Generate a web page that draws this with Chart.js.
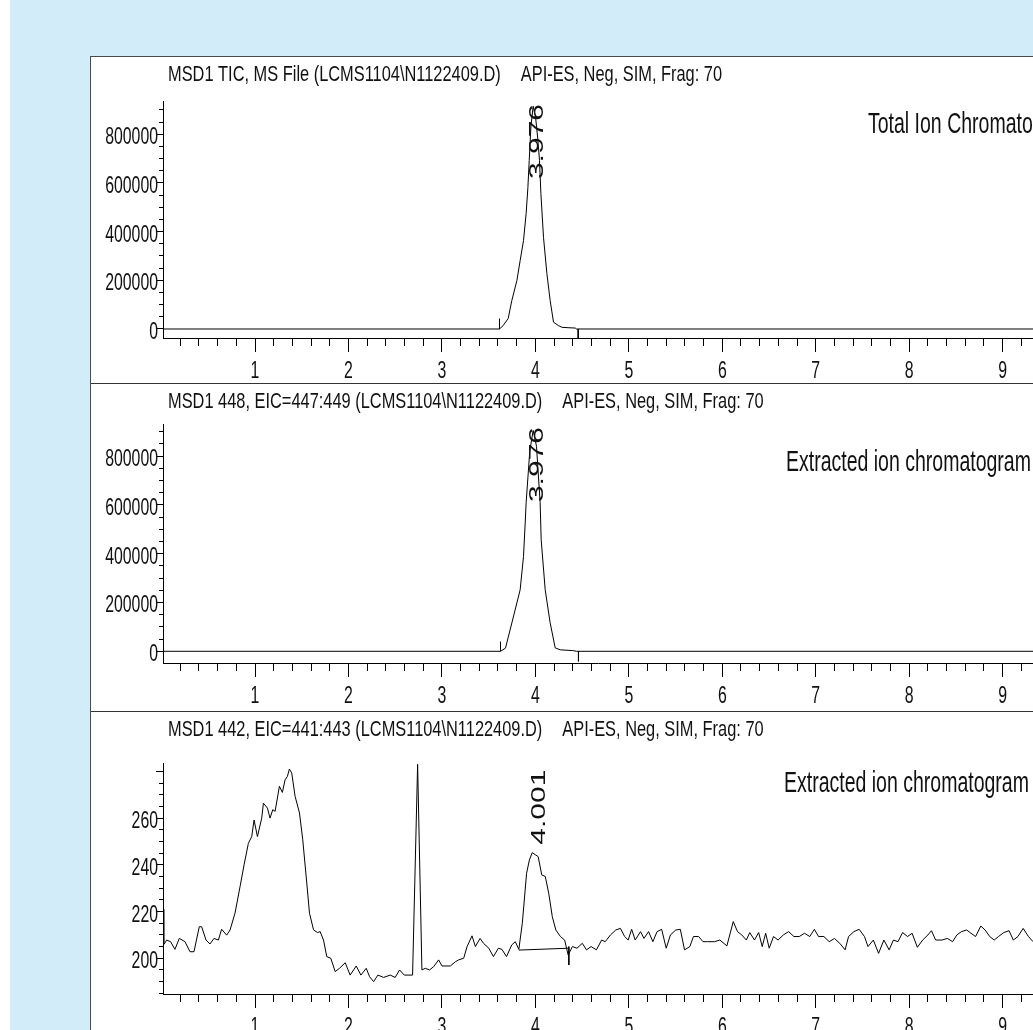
<!DOCTYPE html>
<html>
<head>
<meta charset="utf-8">
<script src="https://cdn.jsdelivr.net/npm/chart.js@4"></script>
<style>
  html, body { margin: 0; padding: 0; background: #fff; overflow: hidden; }
  #sky { position: absolute; left: 10px; top: 0; width: 1023px; height: 1030px; background: #d3ecf9; }
  #sheet { position: absolute; left: 90px; top: 56px; width: 1000px; height: 1000px; background: #fff;
           border-left: 1px solid #4a4a4a; border-top: 1px solid #4a4a4a; }
  .sep { position: absolute; left: 91px; width: 942px; height: 1px; background: #333; }
  canvas { position: absolute; left: 91px; }
</style>
</head>
<body>
<div id="sky"></div>
<div id="sheet"></div>
<canvas id="tic" width="942" height="326" style="top:57px"></canvas>
<div class="sep" style="top:383px"></div>
<canvas id="eic448" width="942" height="327" style="top:384px"></canvas>
<div class="sep" style="top:711px"></div>
<canvas id="eic442" width="942" height="318" style="top:712px"></canvas>
<script>
// retention time (min) and abundance
const ticTime  = [0.02, 3.616, 3.655, 3.709, 3.748, 3.802, 3.837, 3.873, 3.901, 3.920, 3.934, 3.952, 3.976, 4.002, 4.026, 4.044, 4.059, 4.087, 4.123, 4.158, 4.194, 4.247, 4.284, 4.360, 4.426, 4.440, 9.33];
const ticAbund = [0, 0, 14000, 43000, 117000, 199000, 281000, 363000, 474000, 581000, 692000, 830000, 915000, 870000, 780000, 692000, 556000, 376000, 228000, 117000, 28000, 14000, 7000, 5000, 4000, 0, 0];

const eic448Time  = [0.02, 3.627, 3.680, 3.748, 3.837, 3.873, 3.891, 3.901, 3.940, 3.976, 4.012, 4.051, 4.062, 4.105, 4.158, 4.212, 4.266, 4.400, 4.440, 9.33];
const eic448Abund = [0, 0, 13000, 116000, 252000, 389000, 526000, 609000, 820000, 905000, 840000, 609000, 457000, 252000, 117000, 14000, 6000, 3000, 0, 0];

const eic442Time = [0.026, 0.027, 0.055, 0.097, 0.143, 0.190, 0.251, 0.304, 0.347, 0.404, 0.429, 0.476, 0.518, 0.561, 0.608, 0.643, 0.697, 0.733, 0.786, 0.840,
  0.883, 0.929, 0.965, 0.990, 1.026, 1.072, 1.090, 1.133, 1.161, 1.190, 1.215, 1.261, 1.293, 1.322, 1.347, 1.368, 1.393, 1.429, 1.476, 1.511,
  1.554, 1.583, 1.626, 1.668, 1.697, 1.733, 1.768, 1.811, 1.858, 1.904, 1.965, 2.018, 2.083, 2.133, 2.190, 2.226, 2.269, 2.315, 2.376, 2.447,
  2.500, 2.547, 2.597, 2.686, 2.740, 2.786, 2.822, 2.868, 2.911, 2.965, 3.001, 3.090, 3.144, 3.179, 3.233, 3.269, 3.322, 3.358,
  3.408, 3.445, 3.502, 3.551, 3.604, 3.642, 3.691, 3.747, 3.785, 3.823, 3.860, 3.906, 3.936, 3.966, 4.004, 4.030, 4.068, 4.106, 4.143, 4.181,
  4.219, 4.268, 4.313, 4.351, 4.396, 4.445, 4.502, 4.547, 4.596, 4.653, 4.709, 4.747, 4.804, 4.860, 4.910, 4.955, 4.993, 5.030, 5.068, 5.125,
  5.162, 5.211, 5.257, 5.302, 5.351, 5.400, 5.445, 5.502, 5.551, 5.596, 5.653, 5.691, 5.747, 5.793, 5.842, 5.917, 5.974, 6.049, 6.117, 6.163,
  6.208, 6.257, 6.294, 6.344, 6.389, 6.427, 6.464, 6.502, 6.548, 6.597, 6.653, 6.710, 6.766, 6.823, 6.880, 6.936, 6.985, 7.030, 7.087, 7.144,
  7.200, 7.257, 7.314, 7.351, 7.408, 7.464, 7.521, 7.559, 7.616, 7.672, 7.729, 7.785, 7.831, 7.880, 7.929, 7.982, 8.031, 8.087, 8.144, 8.200,
  8.238, 8.283, 8.351, 8.408, 8.464, 8.510, 8.559, 8.615, 8.661, 8.710, 8.766, 8.812, 8.861, 8.910, 8.955, 9.012, 9.068, 9.114, 9.163, 9.219,
  9.276, 9.325];
const eic442Abund = [221.0, 206.0, 207.8, 207.1, 203.8, 208.5, 207.1, 202.8, 202.8, 213.5, 213.5, 207.8, 206.1, 208.5, 207.8, 212.4, 209.9, 212.1, 219.3, 230.7,
  240.0, 249.2, 252.1, 259.2, 252.1, 260.0, 266.4, 264.3, 260.0, 263.6, 262.9, 273.6, 271.0, 276.4, 277.9, 281.0, 279.3, 269.3, 262.2, 250.7,
  232.2, 219.3, 212.2, 211.0, 211.4, 207.8, 200.7, 200.0, 194.3, 195.7, 198.1, 192.8, 196.7, 192.8, 195.7, 192.1, 190.0, 192.8, 191.8, 192.8,
  191.8, 195.0, 192.8, 192.8, 283.0, 195.0, 195.7, 195.0, 196.4, 199.3, 196.7, 196.7, 198.5, 199.3, 200.0, 205.0, 209.6, 205.0,
  208.5, 206.4, 204.3, 200.7, 204.3, 203.8, 200.7, 205.7, 207.1, 203.8, 215.0, 236.4, 242.1, 245.2, 244.2, 243.5, 235.7, 235.0, 227.8, 217.8,
  212.1, 209.3, 207.8, 201.4, 205.0, 204.3, 206.4, 203.6, 205.0, 203.6, 207.8, 207.1, 210.0, 212.1, 212.8, 209.3, 207.8, 212.4, 207.8, 211.4,
  208.5, 211.4, 207.1, 211.4, 212.4, 204.3, 210.0, 212.1, 212.4, 203.6, 205.0, 209.3, 209.3, 207.1, 207.1, 207.1, 207.8, 205.3, 215.7, 211.4,
  210.0, 207.8, 211.0, 207.8, 211.0, 205.0, 210.7, 204.3, 209.3, 207.8, 210.0, 211.4, 209.3, 209.3, 210.7, 209.3, 212.4, 209.3, 209.3, 207.1,
  208.5, 206.4, 203.6, 209.3, 211.4, 212.4, 209.3, 205.0, 207.8, 202.1, 207.8, 203.6, 207.8, 207.1, 211.0, 209.3, 210.7, 204.7, 207.8, 210.0,
  211.8, 207.8, 207.8, 208.5, 207.1, 210.0, 211.4, 212.1, 210.7, 209.3, 213.8, 212.1, 209.3, 207.8, 209.3, 211.0, 211.8, 207.8, 209.3, 212.8,
  209.3, 207.1];

// integration marks: [t1, y1, t2, y2]
const ticMarks    = [[3.616, 0, 3.616, 43000], [4.458, 0, 4.458, -37000]];
const eic448Marks = [[3.627, 0, 3.627, 40000], [4.461, 0, 4.461, -41000]];
const eic442Marks = [[3.823, 203.5, 4.351, 204.3], [4.358, 205.0, 4.358, 197.1]];

// labelled peaks (retention time)
const ticPeaks    = [3.976];
const eic448Peaks = [3.976];
const eic442Peaks = [4.001];

// axis ticks
const xMajorTicks = [1, 2, 3, 4, 5, 6, 7, 8, 9];
const xMinorStep = 0.2;
const abundTicks = [0, 200000, 400000, 600000, 800000];
const abundMinorStep = 50000;
const eic442Ticks = [200, 220, 240, 260, 280];
const eic442Labels = [200, 220, 240, 260];
const eic442MinorStep = 5;

const tMin = 0.0156, tMax = 9.3244;
const face = '"Liberation Sans", Arial, sans-serif';

// the printout uses a tall, condensed face: draw text squeezed horizontally
function squeezed(ctx, text, x, y, size, sx, align) {
  ctx.save();
  ctx.font = size + 'px ' + face;
  ctx.textAlign = align || 'left';
  ctx.textBaseline = 'alphabetic';
  ctx.translate(x, y);
  ctx.scale(sx, 1);
  ctx.fillText(text, 0, 0);
  ctx.restore();
}

function stepTicks(lo, hi, step) {
  const out = [];
  for (let v = Math.ceil(lo / step) * step; v <= hi + 1e-9; v += step) out.push({ value: +v.toFixed(4) });
  return out;
}

const panelText = {
  id: 'panelText',
  afterDraw(chart, args, opts) {
    const { ctx, scales } = chart;
    ctx.save();
    ctx.fillStyle = '#111';
    // header
    ctx.font = '22px ' + face;
    const w = ctx.measureText(opts.title).width * 0.745;
    squeezed(ctx, opts.title, 77, 24, 22, 0.745);
    squeezed(ctx, opts.method, 77 + w + 20, 24, 22, 0.745);
    // trace name
    squeezed(ctx, opts.note, opts.noteX, opts.noteY, 30, 0.65);
    // axis labels, placed by the scales
    const xs = scales.x, ys = scales.y;
    xs.ticks.forEach(t => squeezed(ctx, String(t.value), xs.getPixelForValue(t.value), xs.top + 40, 24, 0.66, 'center'));
    ys.ticks.forEach(t => {
      if (opts.yLabels.includes(t.value)) {
        squeezed(ctx, String(t.value), ys.right - 5, ys.getPixelForValue(t.value) + 10, 24, 0.66, 'right');
      }
    });
    ctx.restore();
  }
};

const peakLabels = {
  id: 'peakLabels',
  afterDatasetsDraw(chart, args, opts) {
    const { ctx, chartArea, scales } = chart;
    const pts = chart.data.datasets[0].data;
    opts.peaks.forEach(rt => {
      let apex = -Infinity;
      pts.forEach(p => { if (Math.abs(p.x - rt) < 0.06 && p.y > apex) apex = p.y; });
      const label = rt.toFixed(3);
      ctx.save();
      ctx.font = '30px ' + face;
      const len = ctx.measureText(label).width;
      let bottom = scales.y.getPixelForValue(apex) - 8;
      if (bottom - len < chartArea.top + 3) bottom = chartArea.top + 3 + len;
      ctx.translate(scales.x.getPixelForValue(rt) + 10, bottom);
      ctx.scale(0.7, 1);
      ctx.rotate(-Math.PI / 2);
      ctx.fillStyle = '#111';
      ctx.textBaseline = 'alphabetic';
      ctx.fillText(label, 0, 0);
      ctx.restore();
    });
  }
};

function points(times, values) {
  return times.map((t, i) => ({ x: t, y: values[i] }));
}

function makeChart(id, p) {
  const datasets = [{
    data: points(p.time, p.abund),
    xAxisID: 'x', yAxisID: 'y',
    borderColor: '#000', borderWidth: 1, pointRadius: 0, tension: 0
  }];
  p.marks.forEach(m => datasets.push({
    data: [{ x: m[0], y: m[1] }, { x: m[2], y: m[3] }],
    xAxisID: 'x', yAxisID: 'y',
    borderColor: '#000', borderWidth: 1, pointRadius: 0
  }));

  return new Chart(document.getElementById(id), {
    type: 'line',
    data: { datasets },
    options: {
      responsive: false,
      animation: false,
      events: [],
      layout: { padding: { top: p.padTop, left: 0, right: 0, bottom: 0 } },
      plugins: {
        legend: { display: false },
        tooltip: { enabled: false },
        panelText: { title: p.title, method: 'API-ES, Neg, SIM, Frag: 70', note: p.note,
                     noteX: p.noteX, noteY: p.noteY, yLabels: p.yLabels },
        peakLabels: { peaks: p.peaks }
      },
      scales: {
        x: {
          type: 'linear', position: 'bottom', weight: 1, min: tMin, max: tMax,
          grid: { drawOnChartArea: false, tickLength: 14, color: '#000' },
          border: { display: true, color: '#000', width: 1 },
          ticks: { display: false },
          afterBuildTicks: s => { s.ticks = xMajorTicks.map(v => ({ value: v })); },
          afterFit: s => { s.height = p.xHeight; }
        },
        xm: {
          type: 'linear', position: 'bottom', weight: 0, min: tMin, max: tMax,
          grid: { drawOnChartArea: false, tickLength: 8, color: '#000' },
          border: { display: false },
          ticks: { display: false },
          afterBuildTicks: s => { s.ticks = stepTicks(tMin, tMax, xMinorStep); },
          afterFit: s => { s.height = 0; }
        },
        y: {
          type: 'linear', position: 'left', weight: 1, min: p.yMin, max: p.yMax,
          grid: { drawOnChartArea: false, tickLength: 7, color: '#000' },
          border: { display: true, color: '#000', width: 1 },
          ticks: { display: false },
          afterBuildTicks: s => { s.ticks = p.yTicks.map(v => ({ value: v })); },
          afterFit: s => { s.width = 72; }
        },
        ym: {
          type: 'linear', position: 'left', weight: 0, min: p.yMin, max: p.yMax,
          grid: { drawOnChartArea: false, tickLength: 4, color: '#000' },
          border: { display: false },
          ticks: { display: false },
          afterBuildTicks: s => { s.ticks = stepTicks(p.yMin, p.yMax, p.yMinorStep); },
          afterFit: s => { s.width = 0; }
        }
      }
    },
    plugins: [panelText, peakLabels]
  });
}

makeChart('tic', {
  time: ticTime, abund: ticAbund, marks: ticMarks, peaks: ticPeaks,
  yMin: -37000, yMax: 936300, yTicks: abundTicks, yLabels: abundTicks, yMinorStep: abundMinorStep,
  padTop: 44, xHeight: 45,
  title: 'MSD1 TIC, MS File (LCMS1104\\N1122409.D)',
  note: 'Total Ion Chromatogram', noteX: 777, noteY: 76
});

makeChart('eic448', {
  time: eic448Time, abund: eic448Abund, marks: eic448Marks, peaks: eic448Peaks,
  yMin: -47950, yMax: 931500, yTicks: abundTicks, yLabels: abundTicks, yMinorStep: abundMinorStep,
  padTop: 40, xHeight: 48,
  title: 'MSD1 448, EIC=447:449 (LCMS1104\\N1122409.D)',
  note: 'Extracted ion chromatogram', noteX: 695, noteY: 87
});

makeChart('eic442', {
  time: eic442Time, abund: eic442Abund, marks: eic442Marks, peaks: eic442Peaks,
  yMin: 184.7, yMax: 283.6, yTicks: eic442Ticks, yLabels: eic442Labels, yMinorStep: eic442MinorStep,
  padTop: 51, xHeight: 36,
  title: 'MSD1 442, EIC=441:443 (LCMS1104\\N1122409.D)',
  note: 'Extracted ion chromatogram', noteX: 693, noteY: 80
});
</script>
</body>
</html>
